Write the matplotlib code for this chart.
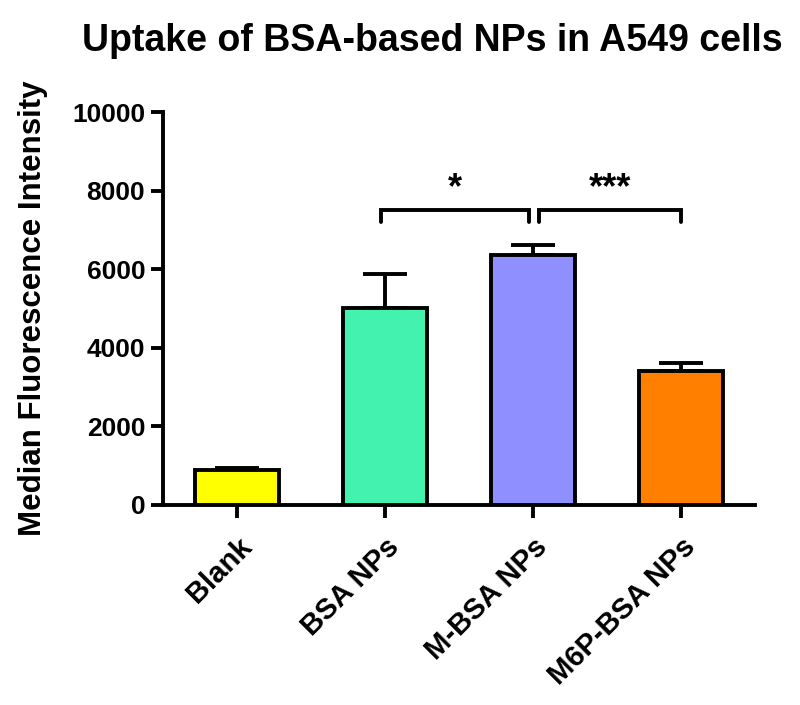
import numpy as np
import matplotlib
matplotlib.use("Agg")
from matplotlib import pyplot as plt

plt.rcParams['font.family'] = ['Liberation Sans', 'DejaVu Sans']
plt.rcParams['font.weight'] = 'bold'

# data
groups = ['Blank', 'BSA NPs', 'M-BSA NPs', 'M6P-BSA NPs']
means = [890, 5020, 6360, 3410]
errors = [40, 850, 250, 200]
bar_colors = ['#FFFF00', '#44F2B0', '#8F8FFF', '#FF8000']
yticks = [0, 2000, 4000, 6000, 8000, 10000]

# significance brackets: (start, end, label)
brackets = [(0.97, 1.97, '*'), (2.04, 3.0, '***')]
bracket_top = 7500
bracket_bottom = 7200
star_y = 8050

LW = 2.8

fig = plt.figure(figsize=(8, 7.05), dpi=100)
ax = fig.add_axes([0.204, 0.284, 0.740, 0.557])

x = np.arange(len(groups))
ax.bar(x, means, width=0.57, color=bar_colors, edgecolor='black', linewidth=LW, zorder=3)
ax.errorbar(x, means, yerr=[np.zeros(len(errors)), errors], fmt='none',
            ecolor='black', elinewidth=LW, capsize=16, capthick=LW, zorder=2)

for x0, x1, label in brackets:
    ax.plot([x0, x0, x1, x1], [bracket_bottom, bracket_top, bracket_top, bracket_bottom],
            color='black', linewidth=LW, solid_capstyle='round', solid_joinstyle='miter')
    ax.text((x0 + x1) / 2, star_y, label, ha='center', va='center',
            fontsize=26, fontweight='bold')

ax.set_xlim(-0.5, 3.5)
ax.set_ylim(0, 10000)
ax.set_yticks(yticks)
ax.set_xticks(x)
ax.set_xticklabels(groups, rotation=45, ha='right', rotation_mode='anchor',
                   fontsize=21, fontweight='bold')
for lab in ax.get_yticklabels():
    lab.set_fontsize(19)
    lab.set_fontweight('bold')

for side in ['top', 'right']:
    ax.spines[side].set_visible(False)
for side in ['left', 'bottom']:
    ax.spines[side].set_linewidth(LW)
ax.tick_params(width=LW, length=9, direction='out')
ax.tick_params(axis='x', pad=11)
ax.tick_params(axis='y', pad=4)

ax.set_ylabel('Median Fluorescence Intensity', fontsize=22.5, fontweight='bold', labelpad=17)
fig.suptitle('Uptake of BSA-based NPs in A549 cells', x=0.54, y=0.967,
             fontsize=27, fontweight='bold')

fig.savefig('out.png', dpi=100)
